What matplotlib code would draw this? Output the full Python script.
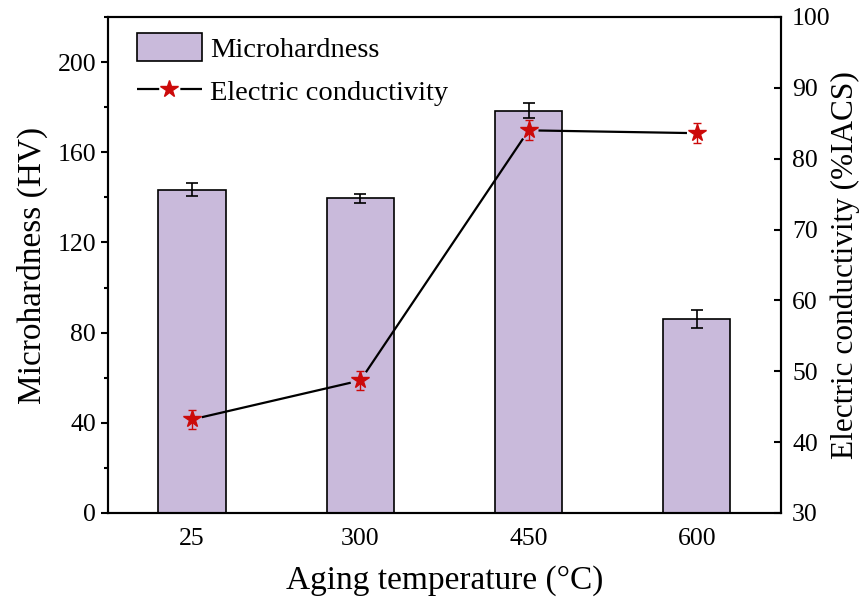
import matplotlib
matplotlib.use("Agg")
import matplotlib.pyplot as plt
import numpy as np
from matplotlib.ticker import MultipleLocator
from matplotlib.lines import Line2D
from matplotlib.patches import Patch

plt.rcParams['font.family'] = ['Liberation Serif', 'DejaVu Serif']

temps = ['25', '300', '450', '600']
hardness = [143.4, 139.5, 178.5, 86.0]
hardness_err = [3.0, 2.0, 3.5, 4.0]
conductivity = [43.2, 48.7, 84.0, 83.6]
conductivity_err = [1.4, 1.4, 1.4, 1.4]

bar_color = '#c9badb'
star_color = '#cc0a0a'
tick_fs = 18.5
label_fs = 24
legend_fs = 20.5

fig = plt.figure(figsize=(8.62, 6.06), dpi=100)
ax = fig.add_axes([0.1253, 0.1535, 0.7807, 0.8185])
x = list(range(len(temps)))

ax.bar(x, hardness, width=0.4, color=bar_color, edgecolor='black', linewidth=1.2, zorder=2)
ax.errorbar(x, hardness, yerr=hardness_err, fmt='none', ecolor='black',
            elinewidth=1.2, capsize=4.3, capthick=1.2, zorder=3)

ax.set_xlim(-0.5, 3.5)
ax.set_ylim(0, 220)
ax.yaxis.set_major_locator(MultipleLocator(40))
ax.yaxis.set_minor_locator(MultipleLocator(20))
ax.set_xticks(x)
ax.set_xticklabels(temps)
ax.tick_params(axis='x', length=0, labelsize=tick_fs, pad=11)
ax.tick_params(axis='y', which='major', direction='out', length=5, width=1.5,
               labelsize=tick_fs, pad=3.5)
ax.tick_params(axis='y', which='minor', direction='out', length=3, width=1.5)
ax.set_ylabel('Microhardness (HV)', fontsize=label_fs, labelpad=7)
ax.set_xlabel('Aging temperature (\u00b0C)', fontsize=label_fs, labelpad=11)
for s in ax.spines.values():
    s.set_linewidth(1.5)

ax2 = ax.twinx()
ax2.set_ylim(30, 100)
ax2.yaxis.set_major_locator(MultipleLocator(10))
ax2.tick_params(axis='y', direction='in', length=5, width=1.5, labelsize=tick_fs, pad=8)
ax2.set_ylabel('Electric conductivity (%IACS)', fontsize=22.5, labelpad=0)
for s in ax2.spines.values():
    s.set_linewidth(1.5)

# connecting line, broken just short of each symbol
gap_px = 11
pts = ax2.transData.transform(np.column_stack([x, conductivity]))
inv = ax2.transData.inverted()
for p0, p1 in zip(pts[:-1], pts[1:]):
    d = p1 - p0
    u = d / np.hypot(*d)
    seg = inv.transform(np.vstack([p0 + u * gap_px, p1 - u * gap_px]))
    ax2.plot(seg[:, 0], seg[:, 1], color='black', linewidth=1.6, zorder=3)

ax2.errorbar(x, conductivity, yerr=conductivity_err, fmt='none', ecolor=star_color,
             elinewidth=1.0, capsize=3, capthick=1.0, zorder=4)
ax2.plot(x, conductivity, linestyle='none', marker='*', markersize=13,
         color=star_color, zorder=5)

handles = [
    Patch(facecolor=bar_color, edgecolor='black', linewidth=1.2),
    Line2D([0], [0], color='black', linewidth=1.6, linestyle=(0, (10, 9.5)),
           marker='*', markersize=13,
           markerfacecolor=star_color, markeredgecolor=star_color),
]
ax2.legend(handles, ['Microhardness', 'Electric conductivity'], loc='upper left',
           bbox_to_anchor=(0.026, 0.99), borderaxespad=0, frameon=False,
           fontsize=legend_fs, handlelength=2.28, handleheight=1.1,
           handletextpad=0.3, labelspacing=0.5)

fig.savefig('out.png', dpi=100)
